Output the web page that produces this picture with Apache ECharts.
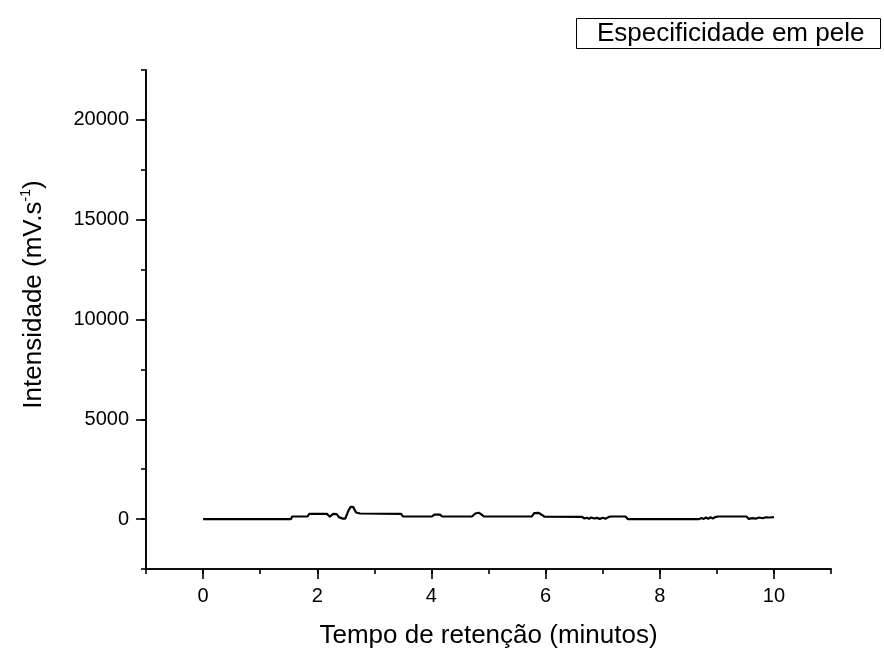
<!DOCTYPE html>
<html>
<head>
<meta charset="utf-8">
<script src="https://cdn.jsdelivr.net/npm/echarts@6/dist/echarts.min.js"></script>
<style>html,body{margin:0;padding:0;background:#fff;}#c{width:884px;height:648px;}</style>
</head>
<body>
<div id="c"></div>
<script>
const seriesName = 'Especificidade em pele';
const xTitle = 'Tempo de retenção (minutos)';
const times = [0, 0.08, 0.10, 0.12, 1.54, 1.56, 1.83, 1.86, 2.17, 2.22, 2.28, 2.34, 2.38, 2.45, 2.49, 2.55, 2.59, 2.63, 2.68, 2.75, 3.47, 3.50, 4.01, 4.05, 4.15, 4.19, 4.71, 4.77, 4.83, 4.88, 4.92, 5.76, 5.80, 5.88, 5.93, 5.98, 6.64, 6.68, 6.72, 6.76, 6.80, 6.85, 6.90, 6.95, 7.00, 7.05, 7.10, 7.14, 7.40, 7.44, 8.69, 8.73, 8.77, 8.81, 8.85, 8.89, 8.93, 8.97, 9.02, 9.05, 9.52, 9.56, 9.62, 9.68, 9.74, 9.80, 9.86, 9.92, 10.0];
const intensity = [0, 0, 100, 0, 0, 130, 130, 260, 260, 120, 260, 250, 100, 20, 20, 450, 620, 600, 330, 280, 260, 130, 130, 220, 220, 130, 130, 280, 320, 220, 130, 130, 300, 310, 220, 120, 110, 30, 70, 20, 80, 30, 60, 10, 70, 20, 100, 130, 130, 0, 0, 60, 10, 80, 20, 90, 30, 100, 130, 130, 130, 10, 50, 20, 80, 40, 90, 80, 100];
const xMajorTicks = [0, 2, 4, 6, 8, 10];
const yMajorTicks = [0, 5000, 10000, 15000, 20000];

const font = 'Liberation Sans, Arial, sans-serif';
const chart = echarts.init(document.getElementById('c'));
const grid = {left: 146, right: 53, top: 70, bottom: 79, containLabel: false, outerBoundsMode: 'none'};
const axisLine = {show: true, onZero: false, lineStyle: {color: '#000', width: 1.6}};
const plain = v => String(v);
chart.setOption({
  animation: false,
  backgroundColor: '#fff',
  grid: grid,
  graphic: [{
    type: 'group', left: 576, top: 18,
    children: [
      {type: 'rect', shape: {x: 0.5, y: 0.5, width: 304, height: 30}, style: {fill: '#fff', stroke: '#000', lineWidth: 1}},
      {type: 'text', x: 21, y: 16, style: {text: seriesName, font: '26px ' + font, fill: '#000', verticalAlign: 'middle'}}
    ]
  }],
  xAxis: [{
    type: 'value', min: -1, max: 11, interval: 1,
    axisLine: axisLine,
    axisTick: {show: true, inside: false, length: 5, lineStyle: {color: '#000', width: 1.6}},
    axisLabel: {show: false},
    splitLine: {show: false},
    name: xTitle, nameLocation: 'middle', nameGap: 54,
    nameTextStyle: {fontSize: 26, fontFamily: font, color: '#000'}
  }, {
    type: 'value', min: -1, max: 11, position: 'bottom',
    axisLine: axisLine,
    axisTick: {show: true, length: 10, customValues: xMajorTicks, lineStyle: {color: '#000', width: 1.6}},
    axisLabel: {show: true, customValues: xMajorTicks, formatter: plain, margin: 17, fontSize: 20, fontFamily: font, color: '#000'},
    splitLine: {show: false}
  }],
  yAxis: [{
    type: 'value', min: -2500, max: 22500, interval: 2500, position: 'left',
    axisLine: axisLine,
    axisTick: {show: true, inside: false, length: 5, lineStyle: {color: '#000', width: 1.6}},
    axisLabel: {show: false},
    splitLine: {show: false},
    name: '{a|Intensidade (mV.s}{s|-1}{a|)}', nameLocation: 'middle', nameGap: 97, nameRotate: 90,
    nameTextStyle: {padding: [0, 0, 0, 50], rich: {
      a: {fontSize: 26, fontFamily: font, color: '#000'},
      s: {fontSize: 14, fontFamily: font, color: '#000', verticalAlign: 'top', padding: [0, 0, 16, 0]}
    }}
  }, {
    type: 'value', min: -2500, max: 22500, position: 'left', offset: 0,
    axisLine: axisLine,
    axisTick: {show: true, length: 10, customValues: yMajorTicks, lineStyle: {color: '#000', width: 1.6}},
    axisLabel: {show: true, customValues: yMajorTicks, formatter: plain, margin: 17, fontSize: 20, fontFamily: font, color: '#000'},
    splitLine: {show: false}
  }],
  series: [{
    name: seriesName, type: 'line', xAxisIndex: 0, yAxisIndex: 0,
    data: times.map((t, i) => [t, intensity[i]]),
    showSymbol: false, symbol: 'none',
    lineStyle: {color: '#000', width: 2.2}
  }]
});
</script>
</body>
</html>
